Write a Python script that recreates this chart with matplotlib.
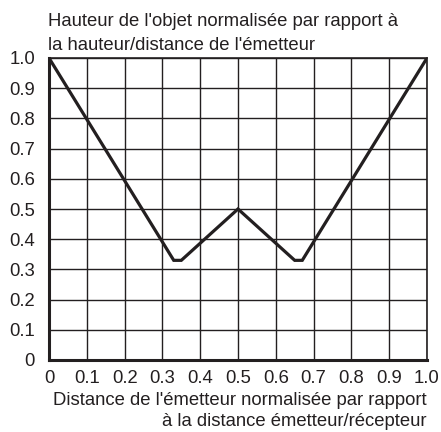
import matplotlib
matplotlib.use("Agg")
import matplotlib.pyplot as plt

# trajectoire de la hauteur normalisée
dist = [0.0, 0.33, 0.35, 0.5, 0.65, 0.67, 1.0]
hauteur = [1.0, 0.33, 0.33, 0.5, 0.33, 0.33, 1.0]

xticks = [0, 0.1, 0.2, 0.3, 0.4, 0.5, 0.6, 0.7, 0.8, 0.9, 1.0]
xticklabels = ["0", "0.1", "0.2", "0.3", "0.4", "0.5", "0.6", "0.7", "0.8", "0.9", "1.0"]
yticks = xticks
yticklabels = xticklabels

plt.rcParams['font.family'] = ['Liberation Sans', 'DejaVu Sans']
FS = 13.3
INK = "#231f20"

fig = plt.figure(figsize=(4.41, 4.32), dpi=100)
ax = fig.add_axes([49 / 441, 1 - 360 / 432, 378 / 441, 302 / 432])

ax.plot(dist, hauteur, color=INK, lw=2.3, solid_joinstyle="miter", zorder=3)

ax.set_xlim(0, 1)
ax.set_ylim(0, 1)
ax.set_xticks(xticks)
ax.set_xticklabels(xticklabels, fontsize=FS, color=INK)
ax.set_yticks(yticks)
ax.set_yticklabels(yticklabels, fontsize=FS, color=INK)
ax.tick_params(axis="x", length=0, pad=7)
ax.tick_params(axis="y", length=0, pad=10)
ax.grid(True, color=INK, lw=1.0)

for side in ["left", "bottom"]:
    ax.spines[side].set_linewidth(2.2)
for side in ["top", "right"]:
    ax.spines[side].set_linewidth(1.2)
for s in ax.spines.values():
    s.set_color(INK)

fig.text(48 / 441, 1 - 13 / 432,
         "Hauteur de l'objet normalisée par rapport à\nla hauteur/distance de l'émetteur",
         ha="left", va="top", fontsize=FS, color=INK, linespacing=1.5)
fig.text(427 / 441, 1 - 392 / 432,
         "Distance de l'émetteur normalisée par rapport\nà la distance émetteur/récepteur",
         ha="right", va="top", fontsize=FS, color=INK, linespacing=1.32,
         multialignment="right")

fig.savefig("out.png", dpi=100)
